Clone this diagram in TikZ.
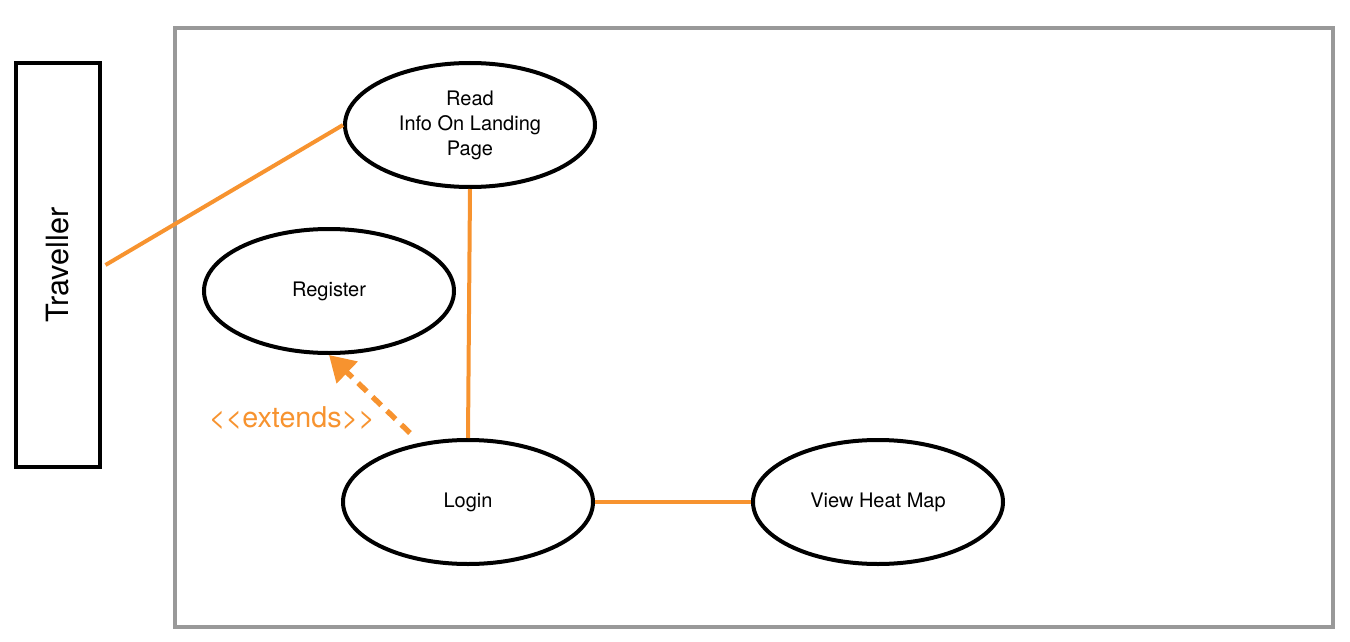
\documentclass[tikz,border=0pt]{standalone}
\usepackage{fontspec}
\setmainfont{TeX Gyre Heros}
\usetikzlibrary{shapes.geometric,arrows.meta,calc}
\definecolor{umlorange}{HTML}{F7932F}
\definecolor{boundgray}{HTML}{999999}
\begin{document}
\begin{tikzpicture}[x=0.75pt,y=-0.75pt,
  usecase/.style={draw=black,line width=3pt,ellipse,minimum width=187.5pt,minimum height=93pt,inner sep=0pt,align=center,font=\fontsize{15}{18.75}\selectfont},
  assoc/.style={draw=umlorange,line width=3pt},
  extendline/.style={draw=umlorange,line width=4pt,dash pattern=on 9pt off 6pt,-{Triangle[length=19pt,width=22pt,fill=umlorange]}}]
\useasboundingbox (0,0) rectangle (1350,642);
\draw[boundgray,line width=3pt] (175,28) rectangle (1333,627);
\node[draw=black,line width=3pt,minimum width=63pt,minimum height=303pt,inner sep=0pt] (trav) at (57.5,265) {};
\node[rotate=90,font=\fontsize{23}{27}\selectfont] (travlabel) at (57.5,265) {Traveller};
\node[usecase] (read) at (470,125) {Read\\Info On Landing\\Page};
\node[usecase] (register) at (329,291) {Register};
\node[usecase] (login) at (468,502) {Login};
\node[usecase] (heat) at (878,502) {View Heat Map};
\coordinate (tstart) at ($(trav.east)+(4,0)$);
\draw[assoc] (tstart) -- (read.west);
\draw[assoc] (read.south) -- (login.north);
\draw[assoc] (login.east) -- (heat.west);
\coordinate (extstart) at (410,433);
\draw[extendline] (extstart) -- (register.south);
\node[text=umlorange,font=\fontsize{21.5}{25}\selectfont] (extlabel) at (292,418) {{<}{<}extends{>}{>}};
\end{tikzpicture}
\end{document}
